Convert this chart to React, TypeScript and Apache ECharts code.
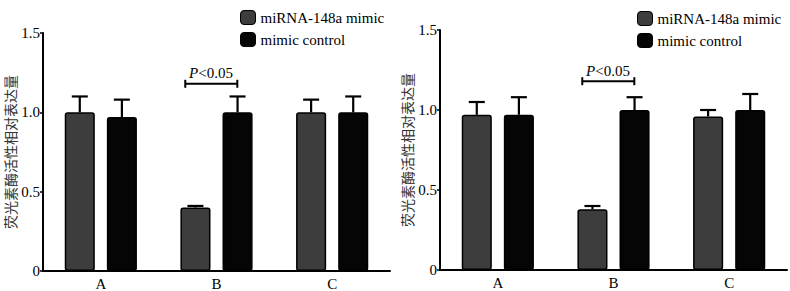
import React, { useEffect, useRef } from "react";
import * as echarts from "echarts";

const categories = ["A", "B", "C"];
const seriesNames = ["miRNA-148a mimic", "mimic control"];
const yAxisName = "荧光素酶活性相对表达量";

// Left panel
const leftMimic = [1.0, 0.4, 1.0];
const leftMimicErrTop = [1.1, 0.41, 1.08];
const leftControl = [0.97, 1.0, 1.0];
const leftControlErrTop = [1.08, 1.1, 1.1];

// Right panel
const rightMimic = [0.97, 0.38, 0.96];
const rightMimicErrTop = [1.05, 0.4, 1.0];
const rightControl = [0.97, 1.0, 1.0];
const rightControlErrTop = [1.08, 1.08, 1.1];

// Significance bracket: category index, value level, label parts
const bracketCategory = 1;
const bracketLevel = 1.18;
const bracketLabelItalic = "P";
const bracketLabelRest = "<0.05";

const SERIF = "Liberation Serif";
const CJK = "Noto Sans CJK SC";
const MIMIC_COLOR = "#3d3d3d";
const CONTROL_COLOR = "#050505";

export default function App() {
  const ref = useRef<HTMLDivElement>(null);

  useEffect(() => {
    if (!ref.current) return;
    const chart = echarts.init(ref.current, null, { renderer: "svg" });

    const errRender = (sign: number) => (params: any, api: any) => {
      const cat = api.value(0);
      const base = api.coord([cat, api.value(1)]);
      const top = api.coord([cat, api.value(2)]);
      const w = api.size([1, 0])[0];
      const x = base[0] + sign * w * 0.182;
      const capHalf = 8;
      return {
        type: "group",
        children: [
          {
            type: "line",
            shape: { x1: x, y1: base[1], x2: x, y2: top[1] },
            style: { stroke: "#000", lineWidth: 2.2 },
          },
          {
            type: "line",
            shape: { x1: x - capHalf, y1: top[1], x2: x + capHalf, y2: top[1] },
            style: { stroke: "#000", lineWidth: 2.2 },
          },
        ],
      };
    };

    const bracketRender = (params: any, api: any) => {
      const cat = api.value(0);
      const p = api.coord([cat, api.value(1)]);
      const w = api.size([1, 0])[0];
      const x1 = p[0] - w * 0.27;
      const x2 = p[0] + w * 0.18;
      const y = p[1];
      const cx = (x1 + x2) / 2;
      return {
        type: "group",
        children: [
          { type: "line", shape: { x1, y1: y, x2, y2: y }, style: { stroke: "#000", lineWidth: 2 } },
          { type: "line", shape: { x1, y1: y - 4, x2: x1, y2: y + 4 }, style: { stroke: "#000", lineWidth: 2 } },
          { type: "line", shape: { x1: x2, y1: y - 4, x2, y2: y + 4 }, style: { stroke: "#000", lineWidth: 2 } },
          {
            type: "text",
            x: cx - 13,
            y: y - 3,
            style: {
              text: bracketLabelItalic,
              font: "italic 15px " + SERIF,
              fill: "#000",
              align: "right",
              verticalAlign: "bottom",
            },
          },
          {
            type: "text",
            x: cx - 13,
            y: y - 3,
            style: {
              text: bracketLabelRest,
              font: "15px " + SERIF,
              fill: "#000",
              align: "left",
              verticalAlign: "bottom",
            },
          },
        ],
      };
    };

    const mkErr = (vals: number[], tops: number[]) =>
      vals.map((v, i) => [i, v, tops[i]]);

    const xAxisCommon = {
      type: "category" as const,
      data: categories,
      axisLine: { lineStyle: { color: "#000", width: 2 } },
      axisTick: { alignWithLabel: true, length: 3, lineStyle: { color: "#000", width: 1.5 } },
      axisLabel: { color: "#000", fontFamily: SERIF, fontSize: 15, margin: 5 },
    };
    const yAxisCommon = {
      type: "value" as const,
      min: 0,
      max: 1.5,
      interval: 0.5,
      name: yAxisName,
      nameLocation: "middle" as const,
      nameGap: 26,
      nameTextStyle: { color: "#333", fontSize: 14, fontFamily: CJK },
      axisLine: { show: true, lineStyle: { color: "#000", width: 2 } },
      axisTick: { show: true, length: 3, lineStyle: { color: "#000", width: 1.5 } },
      axisLabel: {
        color: "#000",
        fontFamily: SERIF,
        fontSize: 15,
        margin: 3,
        formatter: (v: number) => (v === 0 ? "0" : v.toFixed(1)),
      },
      splitLine: { show: false },
    };

    const barCommon = {
      type: "bar" as const,
      barWidth: "26%",
      barGap: "40%",
    };
    const mimicStyle = { color: MIMIC_COLOR, borderColor: "#000", borderWidth: 1.5, borderRadius: 2 };
    const controlStyle = { color: CONTROL_COLOR, borderColor: "#000", borderWidth: 1.5, borderRadius: 2 };

    const legendCommon = {
      orient: "vertical" as const,
      itemWidth: 15,
      itemHeight: 14,
      itemGap: 7,
      textStyle: { color: "#000", fontFamily: SERIF, fontSize: 15 },
      data: [
        { name: seriesNames[0], itemStyle: { color: MIMIC_COLOR, borderColor: "#000", borderWidth: 1 } },
        { name: seriesNames[1], itemStyle: { color: CONTROL_COLOR, borderColor: "#000", borderWidth: 1 } },
      ],
      selectedMode: false,
    };

    chart.setOption({
      animation: false,
      grid: [
        { left: 43, right: 400, top: 33, bottom: 20 },
        { left: 440, right: 3, top: 30, bottom: 21 },
      ],
      legend: [
        { ...legendCommon, left: 235, top: 5 },
        { ...legendCommon, left: 632, top: 6 },
      ],
      xAxis: [
        { ...xAxisCommon, gridIndex: 0 },
        { ...xAxisCommon, gridIndex: 1 },
      ],
      yAxis: [
        { ...yAxisCommon, gridIndex: 0 },
        { ...yAxisCommon, gridIndex: 1 },
      ],
      series: [
        { ...barCommon, name: seriesNames[0], xAxisIndex: 0, yAxisIndex: 0, data: leftMimic, itemStyle: mimicStyle },
        { ...barCommon, name: seriesNames[1], xAxisIndex: 0, yAxisIndex: 0, data: leftControl, itemStyle: controlStyle },
        { ...barCommon, name: seriesNames[0], xAxisIndex: 1, yAxisIndex: 1, data: rightMimic, itemStyle: mimicStyle },
        { ...barCommon, name: seriesNames[1], xAxisIndex: 1, yAxisIndex: 1, data: rightControl, itemStyle: controlStyle },
        { type: "custom", xAxisIndex: 0, yAxisIndex: 0, renderItem: errRender(-1), data: mkErr(leftMimic, leftMimicErrTop), z: 3 },
        { type: "custom", xAxisIndex: 0, yAxisIndex: 0, renderItem: errRender(1), data: mkErr(leftControl, leftControlErrTop), z: 3 },
        { type: "custom", xAxisIndex: 1, yAxisIndex: 1, renderItem: errRender(-1), data: mkErr(rightMimic, rightMimicErrTop), z: 3 },
        { type: "custom", xAxisIndex: 1, yAxisIndex: 1, renderItem: errRender(1), data: mkErr(rightControl, rightControlErrTop), z: 3 },
        { type: "custom", xAxisIndex: 0, yAxisIndex: 0, renderItem: bracketRender, data: [[bracketCategory, bracketLevel]], z: 3 },
        { type: "custom", xAxisIndex: 1, yAxisIndex: 1, renderItem: bracketRender, data: [[bracketCategory, bracketLevel]], z: 3 },
      ],
    });

    return () => chart.dispose();
  }, []);

  return (
    <div
      ref={ref}
      style={{ width: 790, height: 291, position: "absolute", left: 0, top: 0, background: "#fff" }}
    />
  );
}
